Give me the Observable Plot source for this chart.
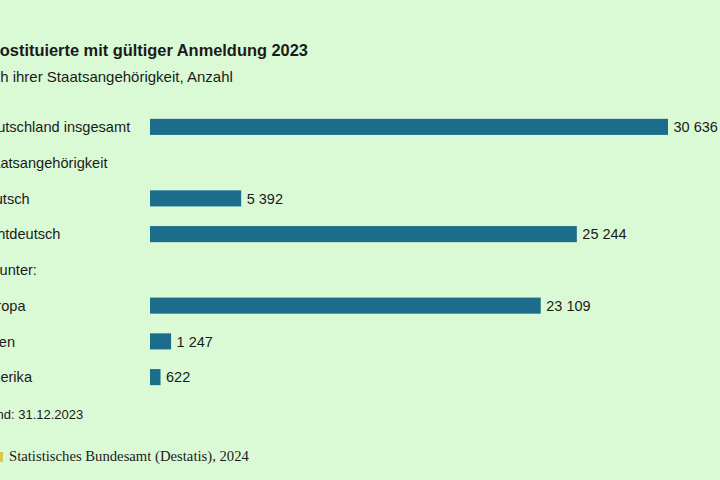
<!DOCTYPE html>
<html>
<head>
<meta charset="utf-8">
<script src="https://cdn.jsdelivr.net/npm/d3@7"></script>
<script src="https://cdn.jsdelivr.net/npm/@observablehq/plot@0.6"></script>
<style>
  html, body { margin: 0; padding: 0; }
  body {
    width: 720px; height: 480px; overflow: hidden; position: relative;
    background: #dafad6; color: #1a1a1a;
    font-family: "Liberation Sans", Arial, Helvetica, sans-serif;
  }
  .t { position: absolute; white-space: nowrap; }
  #title { left: -17.5px; top: 42px; font-size: 16.4px; line-height: 17px; font-weight: bold; }
  #subtitle { left: -24px; top: 69px; font-size: 15px; line-height: 15px; }
  #stand { left: -23px; top: 408px; font-size: 13px; line-height: 13px; }
  #source { left: -1px; top: 449px; font-size: 14.7px; line-height: 15px;
            font-family: "Liberation Serif", "Times New Roman", serif; }
  #source .mark { display: inline-block; width: 4px; height: 10px; background: #d9c94a;
                  margin-right: 6px; vertical-align: -1px; }
  #chart { position: absolute; left: 0; top: 0; }
</style>
</head>
<body>
<div id="chart"></div>
<div class="t" id="title">Prostituierte mit gültiger Anmeldung 2023</div>
<div class="t" id="subtitle">nach ihrer Staatsangehörigkeit, Anzahl</div>
<div class="t" id="stand">Stand: 31.12.2023</div>
<div class="t" id="source"><span class="mark"></span>Statistisches Bundesamt (Destatis), 2024</div>
<script>
// Rows of the chart; header rows carry no value
const categories = [
  "Deutschland insgesamt",
  "Staatsangehörigkeit",
  "deutsch",
  "nichtdeutsch",
  "darunter:",
  "Europa",
  "Asien",
  "Amerika"
];
const values = [30636, null, 5392, 25244, null, 23109, 1247, 622];

const rows = categories.map((c, i) => ({category: c, value: values[i]}));
const bars = rows.filter(d => d.value != null);

// German number format with a space as thousands separator
const de = d3.formatLocale({decimal: ",", thousands: " ", grouping: [3], currency: ["", " €"]});
const fmt = de.format(",d");

const chart = Plot.plot({
  width: 720,
  height: 480,
  margin: 0,
  style: {background: "transparent", fontFamily: "'Liberation Sans', Arial, sans-serif", color: "#1a1a1a"},
  x: {domain: [0, 30636], range: [150, 668], axis: null},
  y: {domain: categories, range: [109, 395], paddingInner: 0.55, paddingOuter: 0.275, round: false, label: null},
  marks: [
    Plot.axisY({tickSize: 0, tickPadding: 0, textAnchor: "start", dx: -22, fontSize: 14.6, fill: "#1a1a1a"}),
    Plot.barX(bars, {x: "value", y: "category", fill: "#1c6d8c"}),
    Plot.text(bars, {x: "value", y: "category", text: d => fmt(d.value), textAnchor: "start", dx: 5, fontSize: 14.5, fill: "#1a1a1a"})
  ]
});
document.getElementById("chart").appendChild(chart);
</script>
</body>
</html>
